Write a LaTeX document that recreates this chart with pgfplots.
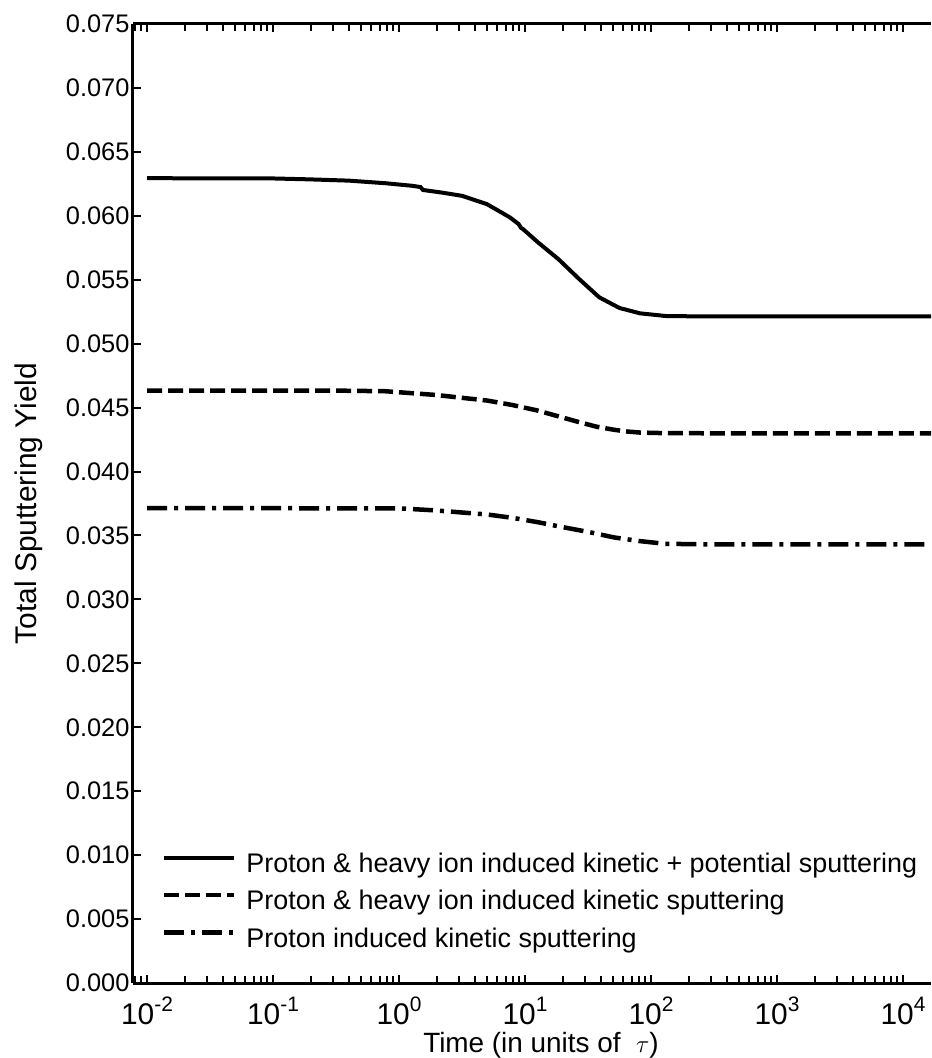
\documentclass[border=0pt]{standalone}
\usepackage{fontspec}
\setmainfont{Liberation Sans}
\usepackage{pgfplots}
\pgfplotsset{compat=1.18}

\pgfplotstableread{
x y
0.01 0.06294
0.1 0.06292
0.193 0.06285
0.398 0.06275
0.774 0.06255
1.259 0.06235
1.479 0.06225
1.549 0.06202
2.239 0.06180
3.162 0.06156
4.989 0.06091
7.603 0.05987
8.9 0.05935
9.3 0.05905
9.638 0.05896
12.68 0.05792
18.41 0.05661
26.92 0.05505
38.90 0.05362
56.23 0.05279
81.85 0.05237
131.8 0.05216
207.5 0.05214
1000 0.05213
25000 0.05213
}\solid

\pgfplotstableread{
x y
0.01 0.04633
0.302 0.04633
0.776 0.04628
1.950 0.04599
5.012 0.04555
7.943 0.04520
12.59 0.04477
18.62 0.04430
26.92 0.04386
37.15 0.04350
51.29 0.04326
64.57 0.04313
81.28 0.04305
128.8 0.04300
1000 0.04298
25000 0.04298
}\dashed

\pgfplotstableread{
x y
0.01 0.03714
1.0 0.03712
1.95 0.03696
5.012 0.03664
7.943 0.03638
12.59 0.03604
19.95 0.03565
32.36 0.03526
51.29 0.03484
81.28 0.03456
128.8 0.03435
251.2 0.03431
25000 0.03430
}\dashdot

\begin{document}
\begin{tikzpicture}
\begin{axis}[
  scale only axis,
  width=798bp, height=959bp,
  xmode=log,
  xmin=0.00774, xmax=16680,
  ymin=0, ymax=0.075,
  ytick distance=0.005,
  axis x line=box,
  axis y line=left,
  axis line style={line width=3bp,-},
  y axis line style={-},
  tick align=inside,
  major tick length=8bp,
  minor tick length=7bp,
  every tick/.style={line width=2bp, black},
  scaled y ticks=false,
  /pgf/number format/assume math mode=true,
  yticklabel style={/pgf/number format/.cd, fixed, fixed zerofill, precision=3},
  tick label style={font=\fontsize{25.5}{30}\selectfont},
  xticklabel style={font=\fontsize{30}{36}\selectfont, anchor=base, yshift=-41bp},
  log number format basis/.code 2 args={#1\raisebox{13bp}{\fontsize{21}{24}\selectfont\pgfmathprintnumber{#2}}},
  xlabel={Time (in units of \ $\tau$)},
  ylabel={Total Sputtering Yield},
  every axis x label/.style={at={(axis description cs:0.5113,-0.0720)}, anchor=base, font=\fontsize{28}{34}\selectfont},
  every axis y label/.style={at={(axis description cs:-0.1303,0.5)}, rotate=90, anchor=center, font=\fontsize{30}{36}\selectfont},
  legend style={draw=none, fill=none, at={(axis description cs:0.0363,0.1345)}, anchor=north west,
    inner sep=0pt, outer sep=0pt, row sep=14.5bp, column sep=10bp,
    font=\fontsize{27}{32}\selectfont,
    nodes={inner sep=0pt, text height=18bp, text depth=5bp}},
  legend cell align=left,
  legend image code/.code={\draw[#1] (0bp,8bp) -- (70bp,8bp);},
]
\addplot[black, line width=4bp] table[x=x,y=y] {\solid};
\addlegendentry{Proton \& heavy ion induced kinetic + potential sputtering}
\addplot[black, line width=4.5bp, dash pattern=on 15bp off 6bp] table[x=x,y=y] {\dashed};
\addlegendentry{Proton \& heavy ion induced kinetic sputtering}
\addplot[black, line width=4.5bp, dash pattern=on 20bp off 7bp on 4bp off 7bp] table[x=x,y=y] {\dashdot};
\addlegendentry{Proton induced kinetic sputtering}
\coordinate (bl) at (rel axis cs:0,0);
\coordinate (tr) at (rel axis cs:1,1);
\end{axis}
\pgfresetboundingbox
\path[use as bounding box] ([shift={(-133bp,-75bp)}]bl) rectangle ([shift={(0bp,24bp)}]tr);
\end{tikzpicture}
\end{document}
